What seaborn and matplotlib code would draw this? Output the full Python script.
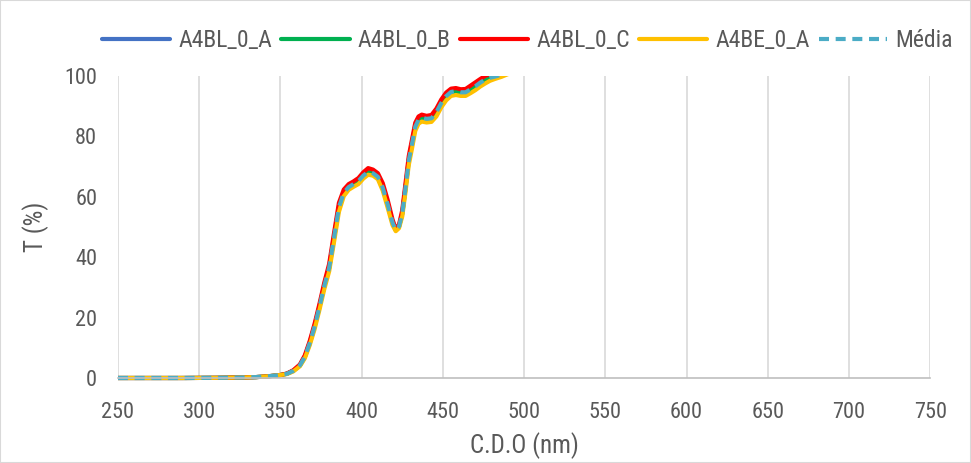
import pandas as pd
import seaborn as sns
import matplotlib.pyplot as plt
from matplotlib.patches import Rectangle
from matplotlib.transforms import Bbox, TransformedBbox

# comprimentos de onda (nm)
wl = [250, 270, 290, 310, 325, 335, 340, 345, 350, 354, 358, 362, 365, 368, 371,
      374, 377, 380, 383, 386, 389, 392, 395, 398, 401, 404, 407, 410, 413, 416,
      419, 421, 423, 425, 427, 429, 431, 433, 435, 437, 440, 443, 446, 449, 452,
      455, 458, 461, 464, 467, 470, 473, 476, 479, 482, 486, 490, 500, 550, 600,
      650, 700, 750]

# transmitancia (%) de cada amostra
a4bl_0_a = [0, 0, 0, 0.05, 0.15, 0.3, 0.45, 0.7, 1.0, 1.4, 2.4, 4.3, 7.1, 11.7, 17.2,
            23.7, 30.7, 36.8, 46.8, 56.8, 61.6, 63.5, 64.5, 65.5, 67.3, 68.6, 68.1, 66.9, 63.3, 57.7,
            51.6, 49.0, 50.3, 54.7, 63.3, 72.3, 77.9, 83.6, 85.9, 86.6, 86.2, 86.4, 88.4, 91.4, 93.7,
            95.1, 95.4, 95.0, 95.0, 96.0, 97.0, 98.2, 99.2, 99.8, 100.2, 100.8, 101.6, 102.9, 103.4, 103.4,
            103.4, 103.4, 103.4]
a4bl_0_b = [0, 0, 0, 0.05, 0.15, 0.3, 0.45, 0.7, 1.0, 1.4, 2.4, 4.1, 6.9, 11.4, 16.9,
            23.4, 30.4, 36.3, 46.3, 56.3, 61.1, 63.0, 64.0, 65.0, 66.8, 68.1, 67.6, 66.4, 62.8, 57.3,
            51.4, 48.9, 50.1, 54.3, 62.8, 71.8, 77.3, 83.0, 85.3, 86.0, 85.6, 85.8, 87.8, 90.8, 93.1,
            94.5, 94.8, 94.4, 94.4, 95.4, 96.4, 97.6, 98.6, 99.2, 99.6, 100.2, 101.0, 102.3, 102.8, 102.8,
            102.8, 102.8, 102.8]
a4bl_0_c = [0, 0, 0, 0.05, 0.15, 0.3, 0.45, 0.7, 1.0, 1.5, 2.6, 4.5, 7.5, 12.2, 17.9,
            24.5, 31.6, 37.8, 48.0, 58.0, 62.4, 64.2, 65.1, 66.2, 68.1, 69.5, 69.0, 67.8, 64.5, 59.0,
            52.5, 49.4, 50.8, 55.6, 64.5, 73.5, 79.0, 84.5, 86.6, 87.2, 86.8, 87.1, 89.2, 92.2, 94.5,
            95.8, 96.0, 95.6, 95.7, 96.8, 97.9, 99.0, 100.0, 100.6, 101.0, 101.6, 102.2, 103.3, 103.8, 103.8,
            103.8, 103.8, 103.8]
a4be_0_a = [0, 0, 0, 0.05, 0.15, 0.3, 0.45, 0.7, 1.0, 1.3, 2.2, 3.9, 6.5, 10.8, 16.1,
            22.5, 29.4, 35.3, 45.0, 55.0, 60.2, 62.3, 63.3, 64.2, 66.0, 67.3, 67.0, 65.8, 62.0, 56.4,
            50.6, 48.6, 49.6, 53.5, 61.6, 70.5, 76.0, 81.8, 84.2, 84.9, 84.6, 84.8, 86.6, 89.6, 91.9,
            93.4, 93.7, 93.4, 93.4, 94.3, 95.3, 96.5, 97.5, 98.4, 99.0, 99.7, 100.6, 102.0, 102.5, 102.5,
            102.5, 102.5, 102.5]
media = [0, 0, 0, 0.05, 0.15, 0.3, 0.45, 0.7, 1.0, 1.4, 2.4, 4.2, 7.0, 11.5, 17.0,
         23.5, 30.5, 36.5, 46.5, 56.5, 61.3, 63.2, 64.2, 65.2, 67.0, 68.3, 67.8, 66.6, 63.0, 57.5,
         51.5, 49.0, 50.2, 54.5, 63.0, 72.0, 77.5, 83.2, 85.5, 86.2, 85.8, 86.0, 88.0, 91.0, 93.3,
         94.7, 95.0, 94.6, 94.6, 95.6, 96.6, 97.8, 98.8, 99.4, 99.8, 100.4, 101.2, 102.5, 103.0, 103.0,
         103.0, 103.0, 103.0]

series = ["A4BL_0_A", "A4BL_0_B", "A4BL_0_C", "A4BE_0_A", "Média"]
valores = [a4bl_0_a, a4bl_0_b, a4bl_0_c, a4be_0_a, media]
cores = ["#4472c4", "#00b050", "#ff0000", "#ffc000", "#4bacc6"]

dados = pd.concat(
    [pd.DataFrame({"wl": wl, "T": v, "serie": s}) for s, v in zip(series, valores)],
    ignore_index=True,
)

sns.set_theme(style="white")
plt.rcParams['font.family'] = ['Roboto Condensed', 'Liberation Sans', 'DejaVu Sans']
cinza = "#595959"

fig = plt.figure(figsize=(9.71, 4.63), dpi=100)
ax = fig.add_axes([0.1215, 0.1836, 0.8365, 0.6523])

for s, c in zip(series, cores):
    sub = dados[dados["serie"] == s]
    linha = sns.lineplot(data=sub, x="wl", y="T", ax=ax, color=c, linewidth=3.0, label=s)
    if s == "Média":
        linha.lines[-1].set_dashes((2.4, 1.6))

# recorte só no topo (linha em 0 fica inteira, como no Excel)
caixa = TransformedBbox(Bbox([[0, -0.05], [1, 1]]), ax.transAxes)
for ln in ax.lines:
    ln.set_solid_capstyle("round")
    ln.set_solid_joinstyle("round")
    ln.set_clip_box(caixa)

ax.set_xlim(250, 750)
ax.set_ylim(0, 100)
ax.set_xticks(range(250, 751, 50))
ax.set_yticks(range(0, 101, 20))
ax.xaxis.grid(True, color="#d9d9d9", linewidth=1.2)
ax.yaxis.grid(False)
ax.set_axisbelow(True)
for lado in ["left", "right", "top"]:
    ax.spines[lado].set_visible(False)
ax.spines["bottom"].set_color("#bfbfbf")
ax.spines["bottom"].set_linewidth(1.2)
ax.tick_params(axis="x", length=0, pad=17, labelsize=16, labelcolor=cinza)
ax.tick_params(axis="y", length=0, pad=15, labelsize=16, labelcolor=cinza)

ax.set_xlabel("C.D.O (nm)", fontsize=18, color=cinza, labelpad=7)
ax.set_ylabel("T (%)", fontsize=18, color=cinza, labelpad=11)

handles, labels = ax.get_legend_handles_labels()
ax.get_legend().remove()
fig.legend(handles, labels, loc="center", bbox_to_anchor=(0.543, 0.913), ncol=5,
           frameon=False, fontsize=17, handlelength=2.9, handletextpad=0.34,
           columnspacing=0.38, labelcolor=cinza)

fig.patches.append(Rectangle((0, 0), 1, 1, transform=fig.transFigure, fill=False,
                             edgecolor="#d9d9d9", linewidth=1.5))

plt.savefig("out.png", dpi=100)
plt.close()
